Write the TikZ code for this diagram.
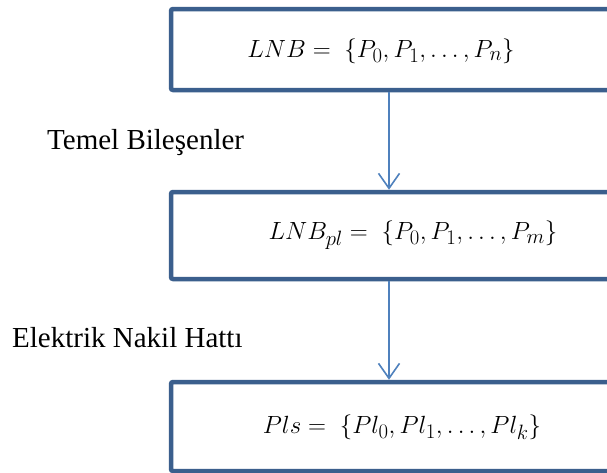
\documentclass[tikz,border=0pt]{standalone}
\usepackage{fontspec}
\setmainfont{Liberation Serif}
\usetikzlibrary{arrows.meta}
\definecolor{boxblue}{HTML}{3B5F8D}
\definecolor{arrblue}{HTML}{4F81BD}
\tikzset{
  flowbox/.style={draw=boxblue, line width=4.5pt, rounded corners=2pt, rectangle, inner sep=0pt},
  mathtext/.style={font=\fontsize{27.5}{32}\selectfont, inner sep=0pt},
  sidetext/.style={font=\fontsize{29}{34}\selectfont, inner sep=0pt},
  arr/.style={draw=arrblue, line width=1.6pt, -{Straight Barb[length=15pt,width=21pt,line width=1.6pt]}}
}
\begin{document}
\begin{tikzpicture}[x=1pt,y=-1pt]
\useasboundingbox[fill=white] (0,0) rectangle (607,472);
\node[flowbox, minimum width=449pt, minimum height=81pt] (b1) at (395.5,49.5) {};
\node[flowbox, minimum width=449pt, minimum height=87pt] (b2) at (395.5,235.5) {};
\node[flowbox, minimum width=449pt, minimum height=89pt] (b3) at (395.5,426.5) {};
\node[mathtext] (t1) at (381,51) {$LNB =\; \{P_0, P_1, \ldots, P_n\}$};
\node[mathtext] (t2) at (413,235) {$LNB_{pl} =\; \{P_0, P_1, \ldots, P_m\}$};
\node[mathtext] (t3) at (402,427) {$Pls =\; \{Pl_0, Pl_1, \ldots, Pl_k\}$};
\node[sidetext, anchor=west] (l1) at (47,143) {Temel Bileşenler};
\node[sidetext, anchor=west] (l2) at (12,338) {Elektrik Nakil Hattı};
\coordinate (ax) at (389,0);
\draw[arr] (b1.south -| ax) -- (b2.north -| ax);
\draw[arr] (b2.south -| ax) -- (b3.north -| ax);
\end{tikzpicture}
\end{document}
